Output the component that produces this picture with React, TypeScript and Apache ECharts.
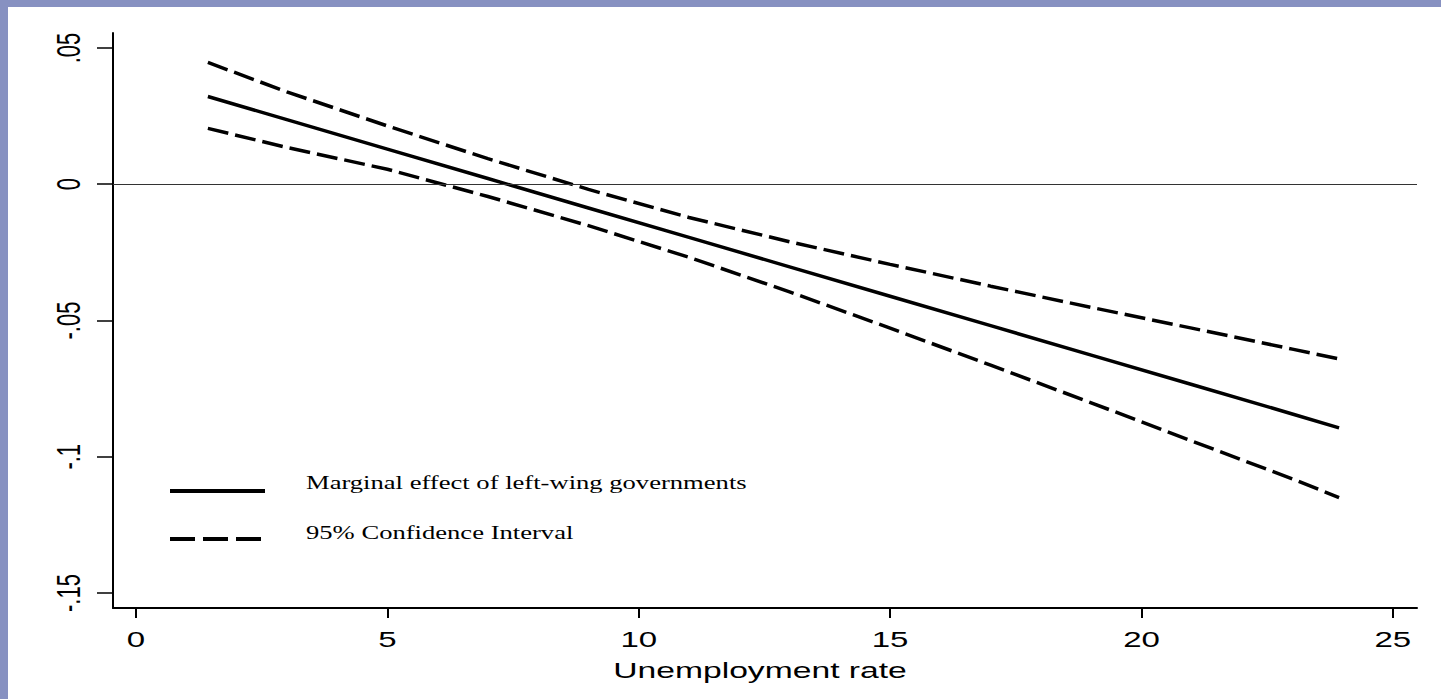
import React, { useEffect, useRef } from "react";
import * as echarts from "echarts";

const xValues = [1.43, 3, 5, 7, 9, 11, 13, 15, 17, 19, 21, 23, 23.93];
const effect = [0.0322, 0.0237, 0.0129, 0.0021, -0.0087, -0.0195, -0.0303, -0.0411, -0.0519, -0.0627, -0.0735, -0.0843, -0.0894];
const upperCI = [0.0447, 0.0339, 0.0214, 0.0094, -0.0019, -0.0122, -0.0211, -0.0294, -0.0374, -0.0452, -0.0528, -0.0605, -0.0641];
const lowerCI = [0.0205, 0.0135, 0.0055, -0.0045, -0.0152, -0.0268, -0.0395, -0.0528, -0.0664, -0.0802, -0.0942, -0.1081, -0.115];

const xTicks = [0, 5, 10, 15, 20, 25];
const xTickLabels = ["0", "5", "10", "15", "20", "25"];
const yTicks = [-0.15, -0.1, -0.05, 0, 0.05];
const yTickLabels = ["-.15", "-.1", "-.05", "0", ".05"];

const xTitle = "Unemployment rate";
const legendNames = ["Marginal effect of left-wing governments", "95% Confidence Interval"];

const BORDER = "#8791c1";
const SANS = "'Liberation Sans', Arial, sans-serif";
const SERIF = "'Liberation Serif', 'Times New Roman', serif";

export default function App() {
  const ref = useRef<HTMLDivElement>(null);
  useEffect(() => {
    if (!ref.current) return;
    const chart = echarts.init(ref.current, null, { renderer: "svg" });
    const toPts = (ys: number[]) => xValues.map((x, i) => [x, ys[i]]);
    const dashStyle = { color: "#000", width: 3.5, type: [21, 7] as any, cap: "butt" as any };
    chart.setOption({
      animation: false,
      backgroundColor: "#fff",
      grid: { left: 113, right: 24, top: 33, bottom: 91 },
      xAxis: {
        type: "value",
        min: -0.457,
        max: 25.48,
        splitLine: { show: false },
        axisLine: { onZero: false, lineStyle: { color: "#000", width: 2 } },
        axisTick: { customValues: xTicks, length: 10, lineStyle: { color: "#000", width: 2 } },
        axisLabel: { show: false, customValues: xTicks },
      },
      yAxis: {
        type: "value",
        min: -0.1555,
        max: 0.0555,
        splitLine: { show: false },
        axisLine: { show: true, onZero: false, lineStyle: { color: "#000", width: 2 } },
        axisTick: { show: true, customValues: yTicks, length: 16, lineStyle: { color: "#000", width: 1.5 } },
        axisLabel: { show: false, customValues: yTicks },
      },
      series: [
        {
          type: "line",
          data: toPts(effect),
          showSymbol: false,
          lineStyle: { color: "#000", width: 3.5 },
          markLine: {
            silent: true,
            symbol: "none",
            label: { show: false },
            lineStyle: { color: "#333", width: 1, type: "solid" },
            data: [{ yAxis: 0 }],
          },
          z: 3,
        },
        { type: "line", data: toPts(upperCI), showSymbol: false, lineStyle: dashStyle, z: 3 },
        { type: "line", data: toPts(lowerCI), showSymbol: false, lineStyle: dashStyle, z: 3 },
      ],
    });

    const g: any[] = [
      { type: "rect", shape: { x: 0, y: 0, width: 1441, height: 7 }, style: { fill: BORDER }, silent: true },
      { type: "rect", shape: { x: 0, y: 0, width: 8, height: 699 }, style: { fill: BORDER }, silent: true },
    ];
    xTicks.forEach((v, i) => {
      const px = chart.convertToPixel({ xAxisIndex: 0 }, v) as number;
      g.push({
        type: "text",
        x: px,
        y: 640,
        scaleX: 1.5,
        style: { text: xTickLabels[i], fontSize: 22, fontFamily: SANS, fill: "#000", align: "center", verticalAlign: "middle" },
      });
    });
    yTicks.forEach((v, i) => {
      const py = chart.convertToPixel({ yAxisIndex: 0 }, v) as number;
      g.push({
        type: "text",
        x: 69,
        y: py,
        rotation: Math.PI / 2,
        scaleY: 1.5,
        style: { text: yTickLabels[i], fontSize: 22, fontFamily: SANS, fill: "#000", align: "center", verticalAlign: "middle" },
      });
    });
    g.push({
      type: "text",
      x: 760,
      y: 670,
      scaleX: 1.53,
      style: { text: xTitle, fontSize: 22, fontFamily: SANS, fill: "#000", align: "center", verticalAlign: "middle" },
    });
    // legend
    g.push({ type: "line", shape: { x1: 170, y1: 491, x2: 265, y2: 491 }, style: { stroke: "#000", lineWidth: 4 } });
    g.push({ type: "line", shape: { x1: 170, y1: 539, x2: 265, y2: 539 }, style: { stroke: "#000", lineWidth: 4, lineDash: [25, 8] } });
    g.push({
      type: "text",
      x: 306,
      y: 482,
      scaleX: 1.4,
      style: { text: legendNames[0], fontSize: 19, fontFamily: SERIF, fill: "#000", align: "left", verticalAlign: "middle" },
    });
    g.push({
      type: "text",
      x: 306,
      y: 532,
      scaleX: 1.4,
      style: { text: legendNames[1], fontSize: 19, fontFamily: SERIF, fill: "#000", align: "left", verticalAlign: "middle" },
    });
    chart.setOption({ graphic: g });
    return () => chart.dispose();
  }, []);
  return (
    <div
      ref={ref}
      style={{ position: "fixed", left: 0, top: 0, width: 1441, height: 699, background: "#fff" }}
    />
  );
}
